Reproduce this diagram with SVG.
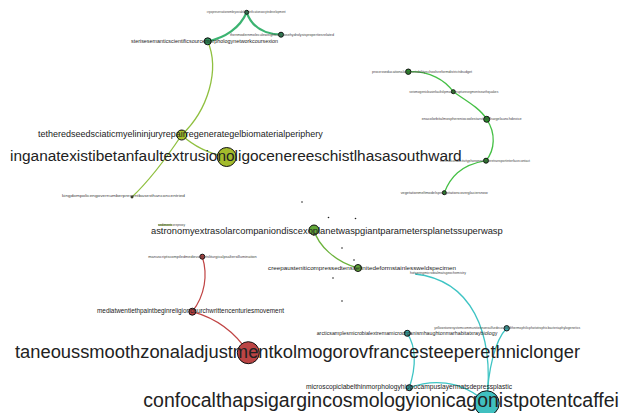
<svg xmlns="http://www.w3.org/2000/svg" width="629" height="413" viewBox="0 0 629 413">
<style>
text{font-family:"Liberation Sans",Arial,sans-serif;fill:#222}
.t{fill:#444}
.n{stroke:#111;stroke-width:1}
.e{fill:none}
.g1{stroke:#3cb371;stroke-width:2.2}
.g2{stroke:#45c045;stroke-width:1.3}
.g3{stroke:#90c040;stroke-width:1.3}
.g4{stroke:#6cb33c;stroke-width:1.3}
.r{stroke:#c04444;stroke-width:1.2}
.c{stroke:#3ec4c4;stroke-width:1.3}
.d{fill:#222}
</style>
<rect width="629" height="413" fill="#fff"/>
<g id="connectors">
<path class="e g1" d="M246.7,12.3 C240,28 225,38 207.7,41.3"/>
<path class="e g1" d="M246.7,12.3 C252,28 265,34 281,34.7"/>
<path class="e g3" d="M207.7,41.3 C220,70 208,110 181.7,135"/>
<path class="e g3" d="M181.7,135 Q200,152 226.7,157"/>
<path class="e g3" d="M181.7,135 C165,160 150,180 132,197"/>
<path class="e g3" d="M158,225 L172,225"/>
<path class="e g2" d="M408.3,71.7 C430,71 445,80 453.3,91.7"/>
<path class="e g2" d="M453.3,91.7 C465,100 480,108 486.7,119.3"/>
<path class="e g2" d="M486.7,119.3 C496,133 495,150 486,160.7"/>
<path class="e g2" d="M486,160.7 C460,165 450,178 444.3,192.7"/>
<path class="e g4" d="M314,230 C318,245 335,262 358,268"/>
<path class="e r" d="M202.3,256.7 C208,275 205,295 192.3,311.7"/>
<path class="e r" d="M192.3,311.7 C215,318 235,332 248.3,352.7"/>
<path class="e c" d="M415,274 C470,280 495,330 486.7,403.3"/>
<path class="e c" d="M506.7,328.3 C495,340 488,370 486.7,403.3"/>
<path class="e c" d="M407.3,333.3 C418,350 415,370 409.3,387.7"/>
<path class="e c" d="M409.3,387.7 C430,380 460,378 486.7,403.3"/>
</g>
<g id="dots">
<circle class="d" cx="302" cy="202" r="0.8"/>
<circle class="d" cx="328.5" cy="217.5" r="0.8"/>
<circle class="d" cx="355.5" cy="218.5" r="0.8"/>
<circle class="d" cx="342" cy="248" r="0.8"/>
<circle class="d" cx="354" cy="260" r="0.8"/>
<circle class="d" cx="333" cy="278" r="0.8"/>
<circle class="d" cx="342" cy="301" r="0.8"/>
</g>
<g id="nA"><circle class="n" cx="246.7" cy="12.3" r="2" fill="#2e8b57"/><text class="t" x="206.7" y="13.1" font-size="3" textLength="79" lengthAdjust="spacingAndGlyphs">cryopreservationembryoviabilityvitrificationoocytedevelopment</text></g>
<g id="nB"><circle class="n" cx="207.7" cy="41.3" r="3.5" fill="#2e8b57"/><text x="131" y="42.6" font-size="5" textLength="147" lengthAdjust="spacingAndGlyphs">sterisesemanticscientificsourcemorphologynetworkcoursexion</text></g>
<g id="nC"><circle class="n" cx="281" cy="34.7" r="2.5" fill="#2e8b57"/><text class="t" x="230" y="35.7" font-size="3.4" textLength="104" lengthAdjust="spacingAndGlyphs">thenmodernmoleculeweightcellulosehydrolysispropertiesrelated</text></g>
<g id="nI"><circle class="n" cx="408.3" cy="71.7" r="2.7" fill="#2a8a2a"/><text class="t" x="372" y="72.7" font-size="3.4" textLength="100" lengthAdjust="spacingAndGlyphs">processeducationalaccountabilityschoolsreformdistrictsbudget</text></g>
<g id="nJ"><circle class="n" cx="453.3" cy="91.7" r="2" fill="#2a8a2a"/><text class="t" x="409.3" y="92.7" font-size="3.4" textLength="89" lengthAdjust="spacingAndGlyphs">seismogenicbasinfaultslipmarginrupturesegmentsearthquakes</text></g>
<g id="nK"><circle class="n" cx="486.7" cy="119.3" r="3" fill="#2a8a2a"/><text class="t" x="421.7" y="120.4" font-size="3.8" textLength="100" lengthAdjust="spacingAndGlyphs">enacolorbitalmosphereniocoolestarstemchargelaunchdevice</text></g>
<g id="nL"><circle class="n" cx="486" cy="160.7" r="2.5" fill="#2a8a2a"/><text class="t" x="440" y="161.7" font-size="3.4" textLength="90" lengthAdjust="spacingAndGlyphs">thermalconductivityphononnanowiretransportinterfacecontact</text></g>
<g id="nM"><circle class="n" cx="444.3" cy="192.7" r="2" fill="#2a8a2a"/><text class="t" x="400.7" y="193.7" font-size="3.4" textLength="87" lengthAdjust="spacingAndGlyphs">vegetationmeltmodelsprecipitationcoverglaciersnow</text></g>
<g id="nD"><circle class="n" cx="181.7" cy="135" r="5" fill="#a8bf2e"/><text x="38" y="137.3" font-size="9" textLength="284.7" lengthAdjust="spacingAndGlyphs">tetheredseedsciaticmyelininjuryrepairregenerategelbiomaterialperiphery</text></g>
<g id="nE"><circle class="n" cx="226.7" cy="157" r="9.5" fill="#a3bb2c"/><text x="10" y="161.3" font-size="15.5" textLength="451.7" lengthAdjust="spacingAndGlyphs">inganatexistibetanfaultextrusionoligocenereeschistlhasasouthward</text></g>
<g id="nF"><circle class="n" cx="132" cy="197" r="1" fill="#a3bb2c"/><text class="t" x="62" y="197.2" font-size="3.6" textLength="123" lengthAdjust="spacingAndGlyphs">kingdompolicengovernumberpresentbasesthanconcentried</text></g>
<g id="nF2"><text class="t" x="158" y="226" font-size="3" textLength="27" lengthAdjust="spacingAndGlyphs">sedimentcoreproxy</text></g>
<g id="nG"><circle class="n" cx="314" cy="230" r="5" fill="#62a83a"/><text x="151" y="234" font-size="9.3" textLength="351.7" lengthAdjust="spacingAndGlyphs">astronomyextrasolarcompaniondiscexoplanetwaspgiantparametersplanetssuperwasp</text></g>
<g id="nH"><circle class="n" cx="358" cy="268" r="3.5" fill="#62a83a"/><text x="268" y="269.5" font-size="5.5" textLength="188" lengthAdjust="spacingAndGlyphs">creepausteniticompressedtensilefinitedeformstainlessweldspecimen</text></g>
<g id="nX"><text class="t" x="410" y="274" font-size="3" textLength="56" lengthAdjust="spacingAndGlyphs">hotspringmicrobialmatsgeochemistry</text></g>
<g id="nN"><circle class="n" cx="202.3" cy="256.7" r="2.5" fill="#b94040"/><text class="t" x="148.3" y="257.7" font-size="3.6" textLength="108.4" lengthAdjust="spacingAndGlyphs">manuscriptscompiledmedievaltextsliturgicalpsaltersillumination</text></g>
<g id="nO"><circle class="n" cx="192.3" cy="311.7" r="3.5" fill="#b94040"/><text x="97" y="313.4" font-size="6.4" textLength="187" lengthAdjust="spacingAndGlyphs">mediatwentiethpaintbeginreligionchurchwrittencenturiesmovement</text></g>
<g id="nP"><circle class="n" cx="248.3" cy="352.7" r="11" fill="#bb4444"/><text x="15" y="358.3" font-size="18.3" textLength="565" lengthAdjust="spacingAndGlyphs">taneoussmoothzonaladjustmentkolmogorovfrancesteeperethniclonger</text></g>
<g id="nQ"><circle class="n" cx="407.3" cy="333.3" r="3" fill="#38a8a8"/><text x="316.7" y="334.7" font-size="5.3" textLength="180.6" lengthAdjust="spacingAndGlyphs">arcticsamplesmicrobialextremamicroorganismhaughtonmarhabitatxraybiology</text></g>
<g id="nR"><circle class="n" cx="506.7" cy="328.3" r="2.7" fill="#38a8a8"/><text class="t" x="434.3" y="329.2" font-size="3.4" textLength="146" lengthAdjust="spacingAndGlyphs">yellowstonesystemcommunitiesnonsulfurdecoupledthermophilicphototrophicbacteriaphylogenetics</text></g>
<g id="nS"><circle class="n" cx="409.3" cy="387.7" r="3" fill="#38a8a8"/><text x="306" y="389.4" font-size="6.6" textLength="206" lengthAdjust="spacingAndGlyphs">microscopiclabelthinmorphologyhippocampuslayermatsdepressplastic</text></g>
<g id="nT"><circle class="n" cx="486.7" cy="403.3" r="12.5" fill="#40c0c0"/><text x="143.3" y="406.5" font-size="19.5">confocalthapsigargincosmologyionicagonistpotentcaffei</text></g>
</svg>
